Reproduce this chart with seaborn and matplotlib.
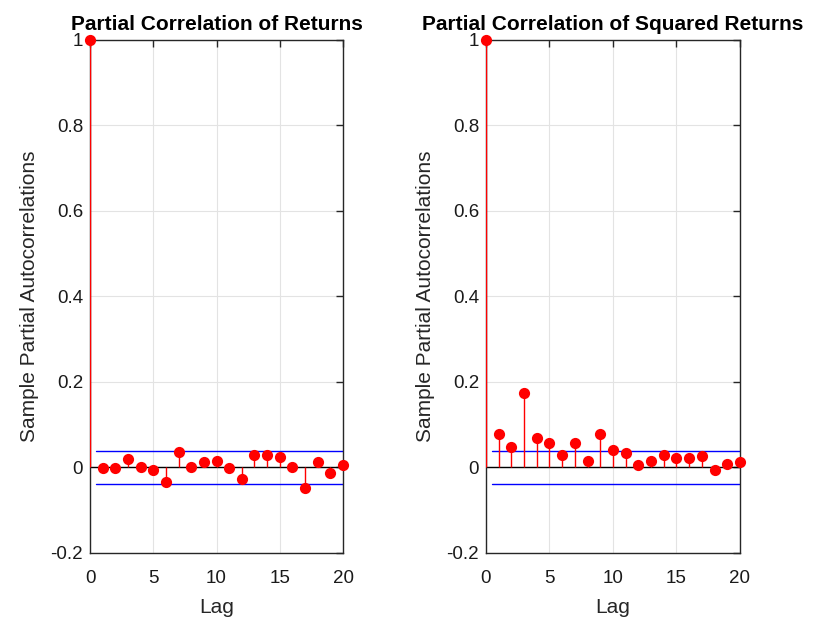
import numpy as np
import pandas as pd
import seaborn as sns
import matplotlib
matplotlib.use("Agg")
import matplotlib.pyplot as plt

lags = list(range(0, 21))
pacf_returns = [1.0, -0.002, -0.002, 0.019, 0.001, -0.005, -0.034, 0.037, 0.001, 0.013, 0.016,
                -0.002, -0.027, 0.029, 0.029, 0.025, 0.0, -0.048, 0.013, -0.013, 0.005]
pacf_squared = [1.0, 0.079, 0.047, 0.174, 0.068, 0.058, 0.029, 0.058, 0.016, 0.079, 0.040,
                0.034, 0.005, 0.016, 0.029, 0.023, 0.023, 0.026, -0.005, 0.008, 0.013]
bound = 0.0375
titles = ["Partial Correlation of Returns", "Partial Correlation of Squared Returns"]

sns.set_style("white")
plt.rcParams['font.family'] = ['Liberation Sans', 'DejaVu Sans']

fig = plt.figure(figsize=(8.22, 6.24), dpi=100)
ax1 = fig.add_axes([0.1095, 0.1138, 0.3078, 0.8221])
ax2 = fig.add_axes([0.5912, 0.1138, 0.3090, 0.8221])

for ax, vals, title in zip([ax1, ax2], [pacf_returns, pacf_squared], titles):
    df = pd.DataFrame({'Lag': lags, 'pacf': vals})
    ax.vlines(df['Lag'], 0, df['pacf'], color='red', lw=1, zorder=3)
    sns.scatterplot(data=df, x='Lag', y='pacf', ax=ax, color='red', s=65,
                    edgecolor='red', linewidth=0, zorder=4, clip_on=False)
    ax.plot([0, 20], [0, 0], color='black', lw=1, zorder=2)
    ax.plot([0.5, 20], [bound, bound], color='blue', lw=1, zorder=2)
    ax.plot([0.5, 20], [-bound, -bound], color='blue', lw=1, zorder=2)

    ax.set_xlim(0, 20)
    ax.set_ylim(-0.2, 1)
    ax.set_xticks([0, 5, 10, 15, 20])
    ax.set_yticks([-0.2, 0, 0.2, 0.4, 0.6, 0.8, 1])
    ax.set_yticklabels(['-0.2', '0', '0.2', '0.4', '0.6', '0.8', '1'])
    ax.grid(True, color='#e3e3e3', lw=0.8)
    ax.set_axisbelow(True)
    for sp in ax.spines.values():
        sp.set_visible(True)
        sp.set_color('#262626')
        sp.set_linewidth(1)
    ax.tick_params(direction='in', length=5, width=1, color='#262626',
                   top=True, right=True, labelsize=13.5, labelcolor='#1a1a1a')
    ax.tick_params(axis='x', pad=12)
    ax.tick_params(axis='y', pad=5)
    ax.set_xlabel('Lag', fontsize=15, color='#262626', labelpad=8)
    ax.set_ylabel('Sample Partial Autocorrelations', fontsize=15, color='#262626', labelpad=8)
    ax.set_title(title, fontsize=15, fontweight='bold', color='black', pad=7)

fig.savefig('out.png', dpi=100)
